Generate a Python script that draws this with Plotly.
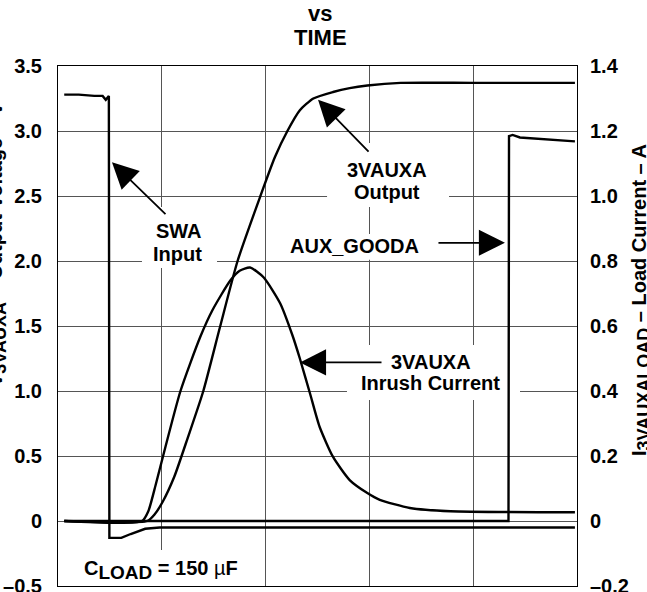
import plotly.graph_objects as go

# ---- data (time in arbitrary units, 10 per grid division) ----
swa_t = [0.6, 2.0, 3.5, 4.3, 4.6, 4.85, 4.9, 4.95, 6.1, 7.0, 8.4, 9.8, 20.0, 30.0, 40.0, 49.8]
swa_v = [3.28, 3.28, 3.27, 3.27, 3.24, 3.27, 3.27, -0.13, -0.13, -0.10, -0.06, -0.05, -0.05, -0.05, -0.05, -0.05]

out_t = [0.6, 8.6, 9.3, 10.1, 11.2, 12.5, 14.0, 15.6, 17.3, 19.5, 20.9, 22.1, 23.3, 24.6, 26.5, 28.1, 29.8, 33.0, 40.0, 49.8]
out_v = [0.0, 0.0, 0.05, 0.15, 0.34, 0.64, 1.0, 1.49, 2.0, 2.5, 2.8, 3.0, 3.16, 3.25, 3.30, 3.33, 3.35, 3.37, 3.37, 3.37]

cur_t = [0.6, 8.1, 8.7, 9.4, 10.1, 11.8, 13.7, 14.9, 16.6, 17.5, 18.5, 19.8, 21.4, 22.6, 23.3, 24.3, 25.2, 26.5, 28.1, 29.8, 31.0, 33.9, 37.8, 49.8]
cur_a = [0.0, 0.0, 0.03, 0.11, 0.197, 0.40, 0.566, 0.65, 0.74, 0.77, 0.78, 0.75, 0.67, 0.57, 0.50, 0.39, 0.29, 0.197, 0.126, 0.086, 0.065, 0.04, 0.03, 0.027]

good_t = [0.6, 20.0, 43.4, 43.45, 43.8, 44.5, 46.4, 49.8]
good_v = [0.0, 0.0, 0.0, 2.96, 2.97, 2.95, 2.94, 2.92]

left_ticks = [-0.5, 0, 0.5, 1.0, 1.5, 2.0, 2.5, 3.0, 3.5]
left_text = ["–0.5", "0", "0.5", "1.0", "1.5", "2.0", "2.5", "3.0", "3.5"]
right_ticks = [-0.2, 0, 0.2, 0.4, 0.6, 0.8, 1.0, 1.2, 1.4]
right_text = ["–0.2", "0", "0.2", "0.4", "0.6", "0.8", "1.0", "1.2", "1.4"]

FONT = "Liberation Sans, Arial, sans-serif"
FS = 20
LW = 2.4

fig = go.Figure()
fig.add_trace(go.Scatter(x=swa_t, y=swa_v, mode="lines", line=dict(color="black", width=LW), name="SWA Input"))
fig.add_trace(go.Scatter(x=out_t, y=out_v, mode="lines", line=dict(color="black", width=LW, shape="spline", smoothing=0.6), name="3VAUXA Output"))
fig.add_trace(go.Scatter(x=good_t, y=good_v, mode="lines", line=dict(color="black", width=LW), name="AUX_GOODA"))
fig.add_trace(go.Scatter(x=cur_t, y=cur_a, mode="lines", line=dict(color="black", width=LW, shape="spline", smoothing=0.6), name="Inrush", yaxis="y2"))

# white boxes behind labels (cover gridlines)
boxes = [
    (8.09, 15.32, 1.946, 2.415),
    (25.92, 37.67, 2.415, 2.908),
    (21.68, 36.03, 2.01, 2.208),
    (27.84, 44.51, 0.931, 1.354),
    (1.64, 18.02, -0.5, -0.223),
]
for x0, x1, y0, y1 in boxes:
    fig.add_shape(type="rect", xref="x", yref="y", x0=x0, x1=x1, y0=y0, y1=y1,
                  fillcolor="white", line=dict(width=0), layer="between")

tf = dict(family=FONT, size=FS, color="black")
labels = [
    ("<b>SWA</b>", 11.66, 2.231),
    ("<b>Input</b>", 11.56, 2.054),
    ("<b>3VAUXA</b>", 31.7, 2.70),
    ("<b>Output</b>", 31.7, 2.531),
    ("<b>AUX_GOODA</b>", 28.61, 2.115),
    ("<b>3VAUXA</b>", 35.93, 1.223),
    ("<b>Inrush Current</b>", 35.93, 1.062),
    ("<b>C<sub><span style='font-size:19px'>LOAD</span></sub> = 150 </b>µ<b>F</b>", 9.92, -0.377),
]
for txt, x, y in labels:
    fig.add_annotation(text=txt, x=x, y=y, xref="x", yref="y", showarrow=False, font=tf,
                       xanchor="center", yanchor="middle")

arrows = [
    (5.2, 2.76, 10.5, 2.35),
    (25.05, 3.24, 30.06, 2.83),
    (43.06, 2.14, 36.51, 2.14),
    (23.31, 1.22, 31.31, 1.22),
]
for hx, hy, tx, ty in arrows:
    fig.add_annotation(text="", x=hx, y=hy, ax=tx, ay=ty, xref="x", yref="y", axref="x", ayref="y",
                       showarrow=True, arrowhead=2, arrowsize=2.9, arrowwidth=1.8, arrowcolor="black", standoff=0)

# title lines
fig.add_annotation(text="<b>vs</b>", x=(320 - 58) / 519, y=(586 - 14) / 520, xref="paper", yref="paper",
                   showarrow=False, font=dict(family=FONT, size=22, color="black"), yanchor="middle")
fig.add_annotation(text="<b>TIME</b>", x=(320 - 58) / 519, y=(586 - 38) / 520, xref="paper", yref="paper",
                   showarrow=False, font=dict(family=FONT, size=22, color="black"), yanchor="middle")

# axis titles (partially cut by the page edges as in the reference)
fig.add_annotation(text="<b>V<sub><span style='font-size:18px'>3VAUXA</span></sub> – Output Voltage – V</b>",
                   x=(-3 - 58) / 519, y=(586 - 245) / 520, xref="paper", yref="paper", textangle=-90,
                   showarrow=False, font=dict(family=FONT, size=FS, color="black"),
                   xanchor="center", yanchor="middle")
fig.add_annotation(text="<b>I<sub><span style='font-size:18px'>3VAUXALOAD</span></sub> – Load Current – A</b>",
                   x=(641 - 58) / 519, y=(586 - 300) / 520, xref="paper", yref="paper", textangle=-90,
                   showarrow=False, font=dict(family=FONT, size=FS, color="black"),
                   xanchor="center", yanchor="middle")

grid = "#555555"
fig.update_layout(
    width=647, height=592,
    margin=dict(l=58, r=70, t=66, b=6, pad=0),
    paper_bgcolor="white", plot_bgcolor="white",
    showlegend=False,
    font=dict(family=FONT, size=FS, color="black"),
    xaxis=dict(range=[0, 50], tickvals=[0, 10, 20, 30, 40, 50], showticklabels=False, automargin=False,
               showgrid=True, gridcolor=grid, gridwidth=1, zeroline=False,
               showline=True, linecolor="black", linewidth=1, mirror=True, ticks=""),
    yaxis=dict(range=[-0.5, 3.5], tickvals=left_ticks, ticktext=left_text, automargin=False,
               tickfont=dict(family=FONT, size=FS, color="black", weight="bold"),
               ticklabeloverflow="allow",
               showgrid=True, gridcolor=grid, gridwidth=1, zeroline=False,
               showline=True, linecolor="black", linewidth=1, mirror=True,
               ticks="outside", ticklen=11, tickcolor="rgba(0,0,0,0)"),
    yaxis2=dict(range=[-0.2, 1.4], tickvals=right_ticks, ticktext=right_text, overlaying="y", side="right",
                automargin=False,
                tickfont=dict(family=FONT, size=FS, color="black", weight="bold"),
                ticklabeloverflow="allow",
                showgrid=False, zeroline=False, showline=False,
                ticks="outside", ticklen=8, tickcolor="rgba(0,0,0,0)"),
)

fig.write_html("out.html", config={"displayModeBar": False},
               post_script="document.body.style.margin='0';document.body.style.overflow='hidden';")
